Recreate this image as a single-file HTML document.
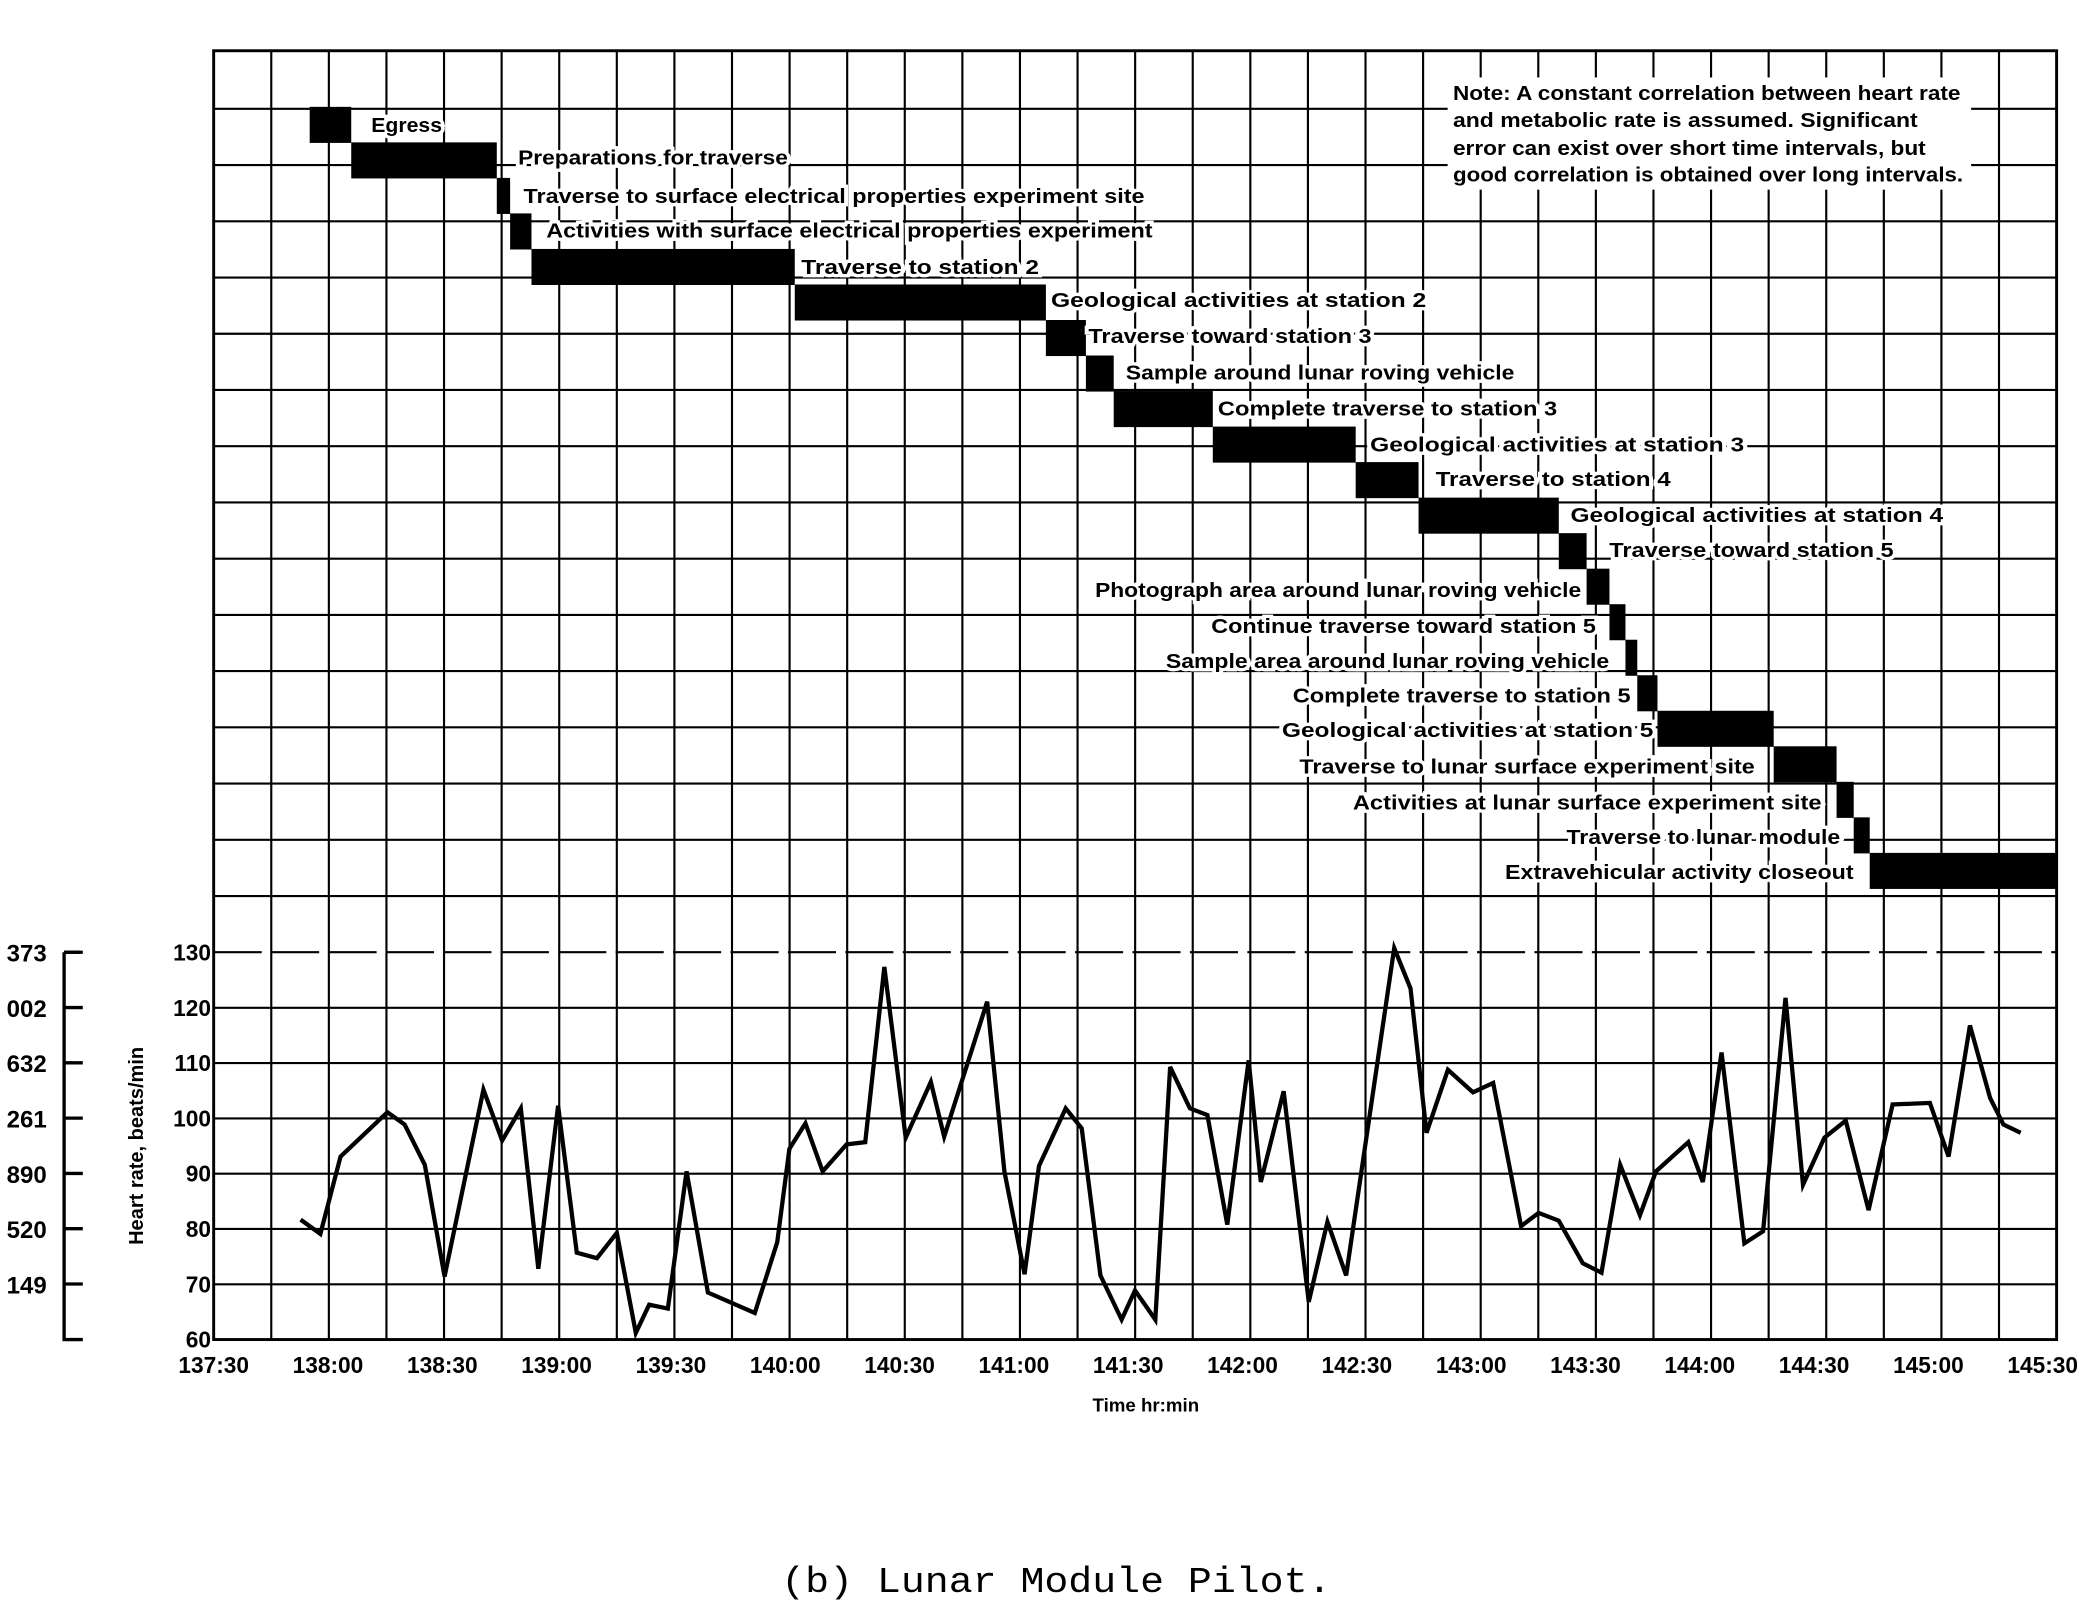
<!DOCTYPE html>
<html><head><meta charset="utf-8"><style>
html,body{margin:0;padding:0;background:#fff;}
svg{display:block;}
text{font-family:"Liberation Sans",sans-serif;font-weight:bold;fill:#000;}
.lbl{font-size:15px;paint-order:stroke;stroke:#fff;stroke-width:5px;}
.mono{font-family:"Liberation Mono",monospace;font-weight:normal;}
</style></head><body>
<svg id="chart" width="2094" height="1612" viewBox="0 0 1568 1207" preserveAspectRatio="none" xmlns="http://www.w3.org/2000/svg">
<g id="grid"></g>
<g id="bars"></g>
<g id="labels"></g>
<g id="axes"></g>
<g id="series"></g>
<g>
<rect x="1084" y="58" width="392" height="84" fill="#fff"/>
<text x="1088" y="75" font-size="15" textLength="380" lengthAdjust="spacingAndGlyphs">Note:  A constant correlation between heart rate</text>
<text x="1088" y="95" font-size="15" textLength="348" lengthAdjust="spacingAndGlyphs">and metabolic rate is assumed.  Significant</text>
<text x="1088" y="116" font-size="15" textLength="354" lengthAdjust="spacingAndGlyphs">error can exist over short time intervals, but</text>
<text x="1088" y="136" font-size="15" textLength="382" lengthAdjust="spacingAndGlyphs">good correlation is obtained over long intervals.</text>
</g>
<text x="858" y="1057" font-size="14" text-anchor="middle">Time hr:min</text>
<text transform="translate(107,858) rotate(-90)" font-size="15" text-anchor="middle">Heart rate, beats/min</text>
<text class="mono" x="585" y="1192" font-size="27" textLength="412" lengthAdjust="spacingAndGlyphs">(b) Lunar Module Pilot.</text>
</svg>
<script>
// heart-rate series: minutes after 137:30, beats/min
const hrTimes=[22.8,28.0,33.3,45.6,50.1,55.4,60.6,70.8,75.7,80.6,85.2,90.4,95.3,100.6,105.8,110.8,114.3,119.2,124.1,129.7,142.0,147.9,151.1,155.3,159.8,166.1,171.0,176.0,181.6,188.2,191.7,203.0,207.5,212.8,216.6,223.6,227.8,232.7,238.3,241.8,247.1,251.0,256.2,260.8,266.0,271.6,274.8,280.8,287.4,292.3,297.2,309.8,314.1,318.3,323.9,330.5,335.8,343.1,347.7,353.0,359.3,364.2,369.1,374.3,378.5,387.0,390.8,395.7,401.7,406.6,412.5,417.1,422.7,428.3,434.3,440.6,450.4,455.3,460.9,466.2,469.7,474.2];
const hrValues=[81.7,79.1,93.1,101.1,98.9,91.6,71.4,105.2,96.0,101.8,72.8,102.3,75.7,74.7,79.3,61.2,66.3,65.6,90.4,68.5,64.8,77.6,94.5,99.1,90.4,95.3,95.7,127.4,96.5,106.6,96.7,121.1,90.4,71.8,91.4,101.8,98.2,71.6,63.6,68.9,63.6,109.3,101.8,100.6,80.8,110.5,88.5,104.9,66.8,81.3,71.6,130.8,123.5,97.4,108.8,104.7,106.4,80.5,82.9,81.5,73.8,72.1,91.6,82.5,90.4,95.7,88.5,111.9,77.4,79.6,121.8,88.0,96.5,99.6,83.4,102.5,102.8,93.1,116.8,103.7,98.9,97.4];
// activity bars: start/end minutes after 137:30
const actNames=["Egress","Preparations for traverse","Traverse to surface electrical properties experiment site","Activities with surface electrical properties experiment","Traverse to station 2","Geological activities at station 2","Traverse toward station 3","Sample around lunar roving vehicle","Complete traverse to station 3","Geological activities at station 3","Traverse to station 4","Geological activities at station 4","Traverse toward station 5","Photograph area around lunar roving vehicle","Continue traverse toward station 5","Sample area around lunar roving vehicle","Complete traverse to station 5","Geological activities at station 5","Traverse to lunar surface experiment site","Activities at lunar surface experiment site","Traverse to lunar module","Extravehicular activity closeout"];
const actStart=[25.2,36.1,74.3,77.8,83.4,152.5,218.4,228.9,236.2,262.2,299.7,316.2,353.0,360.3,366.3,370.5,373.6,378.9,409.4,425.9,430.4,434.6];
const actEnd=[36.1,74.3,77.8,83.4,152.5,218.4,228.9,236.2,262.2,299.7,316.2,353.0,360.3,366.3,370.5,373.6,378.9,409.4,425.9,430.4,434.6,483.7];
const xTickLabels=["137:30","138:00","138:30","139:00","139:30","140:00","140:30","141:00","141:30","142:00","142:30","143:00","143:30","144:00","144:30","145:00","145:30"];
const yTicks=[60,70,80,90,100,110,120,130];
const metLabels=["373","002","632","261","890","520","149"];

const NS="http://www.w3.org/2000/svg";
const X0=160,PXM=85.6/30,Y0=1003,PXV=4.14;
const xs=t=>X0+t*PXM, ys=v=>Y0-(v-60)*PXV;
function mk(tag,attrs,parent){const e=document.createElementNS(NS,tag);for(const k in attrs)e.setAttribute(k,attrs[k]);parent.appendChild(e);return e;}
const grid=document.getElementById('grid');
for(let i=0;i<=32;i++){const x=160+i*43.125;const l=mk('line',{x1:x,y1:38,x2:x,y2:1003,stroke:'#000','stroke-width':1.6},grid);

}
const hl=[];
for(let i=0;i<7;i++)hl.push(1003-i*41.4);
for(let j=0;j<16;j++)hl.push(713-j*42.1);
hl.forEach((y,i)=>{const l=mk('line',{x1:160,y1:y,x2:1540,y2:y,stroke:'#000','stroke-width':1.6},grid);
if(i===7)l.setAttribute('stroke-dasharray','36 7');

});
mk('rect',{x:160,y:38,width:1380,height:965,fill:'none',stroke:'#000','stroke-width':2.2},grid);
const bars=document.getElementById('bars'),labels=document.getElementById('labels');
const lblPos=[[278,99,53],[388,123,202],[392,152,465],[409,178,454],[600,205,178],[787,230,281],[815,257,212],[843,284,291],[912,311,254],[1026,338,280],[1075,364,176],[1176,391,279],[1205,417,213],[820,447,364],[907,474,288],[873,500,332],[968,526,253],[960,552,278],[973,579,341],[1013,606,351],[1173,632,205],[1127,658,261]];
actNames.forEach((n,i)=>{
 const y=80+i*26.6;
 const r=mk('rect',{x:xs(actStart[i]),y:y,width:xs(actEnd[i])-xs(actStart[i]),height:27,fill:'#000'},bars);
 
 
 const p=lblPos[i];
 const t=mk('text',{x:p[0],y:p[1],class:'lbl',textLength:p[2],lengthAdjust:'spacingAndGlyphs'},labels);
 t.textContent=n;
 
 
});
const axes=document.getElementById('axes');
xTickLabels.forEach((s,i)=>{const t=mk('text',{x:X0+i*85.6,y:1028,'font-size':17,'text-anchor':'middle'},axes);t.textContent=s;

});
yTicks.forEach(v=>{const t=mk('text',{x:158,y:ys(v)+6,'font-size':17,'text-anchor':'end'},axes);t.textContent=v;

});
mk('path',{d:'M48 713 H60 M48 713 V1003 H62',fill:'none',stroke:'#000','stroke-width':2.5},axes);
metLabels.forEach((s,i)=>{const y=713+i*41.4;
 mk('line',{x1:48,y1:y,x2:62,y2:y,stroke:'#000','stroke-width':2.5},axes);
 const t=mk('text',{x:35,y:y+7,'font-size':18,'text-anchor':'end'},axes);t.textContent=s;
 
 });
const pts=hrTimes.map((t,i)=>xs(t).toFixed(1)+','+ys(hrValues[i]).toFixed(1)).join(' ');
const pl=mk('polyline',{points:pts,fill:'none',stroke:'#000','stroke-width':3.2,'stroke-linejoin':'miter'},document.getElementById('series'));


</script>
</body></html>
